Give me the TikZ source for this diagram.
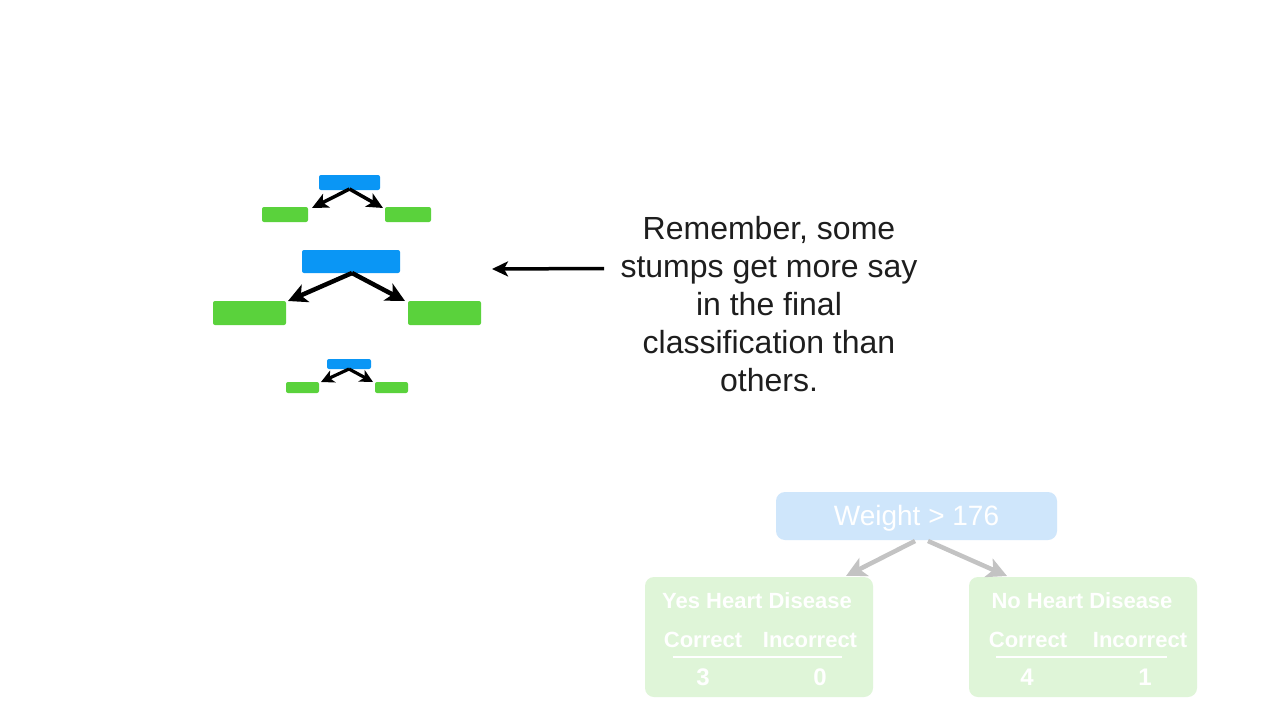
\documentclass[tikz,border=0pt]{standalone}
\usepackage{fontspec}
\setmainfont{Liberation Sans}
\usetikzlibrary{arrows.meta,calc}
\definecolor{stumpblue}{HTML}{0A96F5}
\definecolor{stumpgreen}{HTML}{5AD23C}
\definecolor{fadeblue}{HTML}{CFE6FB}
\definecolor{fadegreen}{HTML}{DFF5D8}
\definecolor{fadegray}{HTML}{C3C3C3}
\definecolor{txt}{HTML}{1E1E1E}
\begin{document}
\begin{tikzpicture}[x=1pt,y=-1pt,
  box/.style={draw=none,rounded corners=2pt,inner sep=0pt,outer sep=0pt},
  bluebox/.style={box,fill=stumpblue},
  greenbox/.style={box,fill=stumpgreen},
  blkbig/.style={draw=black,-{Stealth[length=19pt,width=19pt,inset=5pt]},line width=4.5pt},
  blkmid/.style={draw=black,-{Stealth[length=16pt,width=15pt,inset=4pt]},line width=3.5pt},
  blksmall/.style={draw=black,-{Stealth[length=13pt,width=13pt,inset=3.5pt]},line width=3.2pt},
  fadearrow/.style={draw=fadegray,-{Stealth[length=20pt,width=20pt,inset=5pt]},line width=4.5pt},
  faintxt/.style={text=white,font=\bfseries\fontsize{22}{24}\selectfont,inner sep=0pt}
]
\useasboundingbox (0,0) rectangle (1280,720);
\fill[white] (0,0) rectangle (1280,720);

% top stump
\node[bluebox,minimum width=61pt,minimum height=15pt] (b1) at (349.5,182.5) {};
\node[greenbox,minimum width=46pt,minimum height=15pt] (l1) at (285,214.5) {};
\node[greenbox,minimum width=46pt,minimum height=15pt] (r1) at (408,214.5) {};
\coordinate (t1l) at ($(l1.north east)+(4,1)$);
\coordinate (t1r) at ($(r1.north west)+(-2,1)$);
\draw[blkmid] ($(b1.south)+(0,-1)$) -- (t1l);
\draw[blkmid] ($(b1.south)+(0,-1)$) -- (t1r);

% middle stump
\node[bluebox,minimum width=98pt,minimum height=23pt] (b2) at (351,261.5) {};
\node[greenbox,minimum width=73pt,minimum height=24pt] (l2) at (249.5,313) {};
\node[greenbox,minimum width=73pt,minimum height=24pt] (r2) at (444.5,313) {};
\coordinate (t2l) at ($(l2.north east)+(2,0)$);
\coordinate (t2r) at ($(r2.north west)+(-3,0)$);
\draw[blkbig] ($(b2.south)+(1,0)$) -- (t2l);
\draw[blkbig] ($(b2.south)+(1,0)$) -- (t2r);

% bottom stump
\node[bluebox,minimum width=44pt,minimum height=10pt] (b3) at (349,364) {};
\node[greenbox,minimum width=33pt,minimum height=11pt] (l3) at (302.5,387.5) {};
\node[greenbox,minimum width=33pt,minimum height=11pt] (r3) at (391.5,387.5) {};
\coordinate (t3l) at ($(l3.north east)+(2,0)$);
\coordinate (t3r) at ($(r3.north west)+(-2,0)$);
\draw[blksmall] ($(b3.south)+(0,0)$) -- (t3l);
\draw[blksmall] ($(b3.south)+(0,0)$) -- (t3r);

% caption and pointer
\node[text=txt,align=center,font=\fontsize{32}{38}\selectfont,inner sep=0pt] (cap) at (769,304)
  {Remember, some\\stumps get more say\\in the final\\classification than\\others.};
\coordinate (ptr) at (492,269);
\draw[blkmid] (604,268.5) -- (ptr);

% faded tree
\node[box,rounded corners=9pt,fill=fadeblue,minimum width=281pt,minimum height=48pt] (root) at (916.5,516) {};
\node[text=white,font=\fontsize{28}{30}\selectfont,inner sep=0pt] (rootlbl) at (916.5,518) {Weight > 176};
\node[box,rounded corners=9pt,fill=fadegreen,minimum width=228pt,minimum height=120pt] (yes) at (759,637) {};
\node[box,rounded corners=9pt,fill=fadegreen,minimum width=228pt,minimum height=120pt] (no) at (1083,637) {};
\coordinate (ya) at (846,576);
\coordinate (na) at (1007,576);
\draw[fadearrow] (915,541) -- (ya);
\draw[fadearrow] (928,541) -- (na);

\node[faintxt] (yh) at (757,601) {Yes Heart Disease};
\node[faintxt] (yc) at (703,640) {Correct};
\node[faintxt] (yi) at (810,640) {Incorrect};
\draw[white,line width=2pt] (673,657) -- (842,657);
\node[faintxt,font=\bfseries\fontsize{24}{26}\selectfont] (y3) at (703,677) {3};
\node[faintxt,font=\bfseries\fontsize{24}{26}\selectfont] (y0) at (820,677) {0};

\node[faintxt] (nh) at (1082,601) {No Heart Disease};
\node[faintxt] (nc) at (1028,640) {Correct};
\node[faintxt] (ni) at (1140,640) {Incorrect};
\draw[white,line width=2pt] (996,657) -- (1167,657);
\node[faintxt,font=\bfseries\fontsize{24}{26}\selectfont] (n4) at (1027,677) {4};
\node[faintxt,font=\bfseries\fontsize{24}{26}\selectfont] (n1) at (1145,677) {1};
\end{tikzpicture}
\end{document}
